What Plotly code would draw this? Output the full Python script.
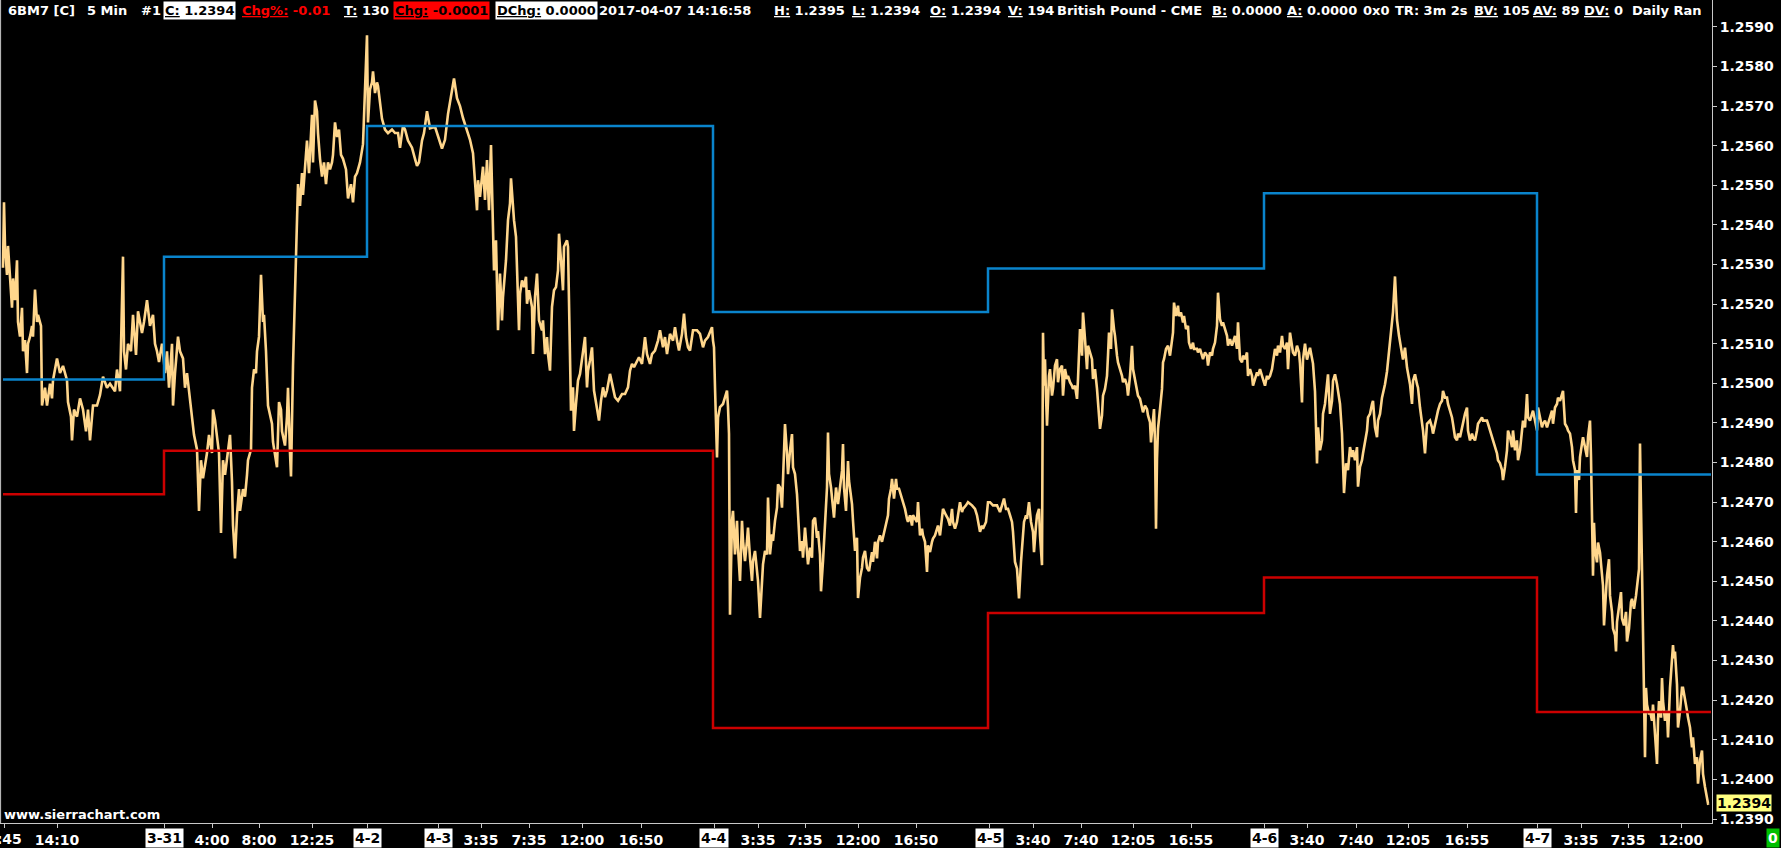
import plotly.graph_objects as go

# ---------------- data (5-min bars, x = bar index) ----------------
bar_idx = [
3,4,5,7,8,10,12,13,15,17,18,20,22,23,25,27,28,30,32,33,35,37,38,41,42,45,47,50,52,53,57,60,63,67,68,71,72,74,77,80,
83,86,88,90,93,97,100,103,107,110,115,117,120,123,124,126,128,131,133,136,138,142,144,147,150,153,155,157,159,162,
163,165,167,169,172,173,175,178,180,183,185,187,190,193,194,197,199,201,203,207,209,212,213,215,217,219,221,223,225,228,
230,232,233,235,237,239,240,243,245,247,248,251,252,254,256,257,259,261,263,264,266,268,269,272,273,275,277,279,281,282,
285,287,288,290,291,293,295,296,297,298,300,302,303,306,307,309,312,313,315,317,318,320,322,324,326,328,330,332,333,335,
337,339,341,343,346,348,351,353,355,357,360,363,364,366,367,368,370,372,373,375,377,378,380,382,385,388,392,395,398,400,
403,405,408,412,415,417,419,422,424,427,
430,435,442,445,448,451,454,457,460,463,467,470,473,475,477,478,480,483,485,487,489,491,493,494,496,498,500,502,503,506,
508,510,511,513,514,516,517,519,520,522,524,526,527,529,532,533,535,537,539,542,543,545,547,548,550,552,554,556,558,559,
561,563,564,567,568,569,571,573,574,576,578,580,582,583,585,587,588,590,592,594,597,599,601,603,605,607,610,613,615,618,
622,625,628,630,632,634,637,639,642,645,647,650,652,655,658,660,663,665,667,670,673,675,677,679,682,684,686,688,690,693,
697,700,703,705,708,712,713,714,715,716,717,718,720,723,725,727,728,729,730,732,733,735,737,738,740,742,743,745,747,748,
750,752,753,755,757,758,760,762,763,765,767,768,770,772,773,775,777,778,780,782,783,785,787,788,790,792,793,795,797,798,
800,802,803,805,807,808,810,812,813,815,817,818,820,821,823,825,827,828,829,831,833,834,836,838,840,842,843,844,846,848,
849,852,853,855,857,858,860,862,863,865,867,869,
872,873,875,877,878,880,882,884,886,888,889,891,892,894,896,897,899,902,903,905,907,908,910,912,913,915,917,918,920,922,
923,925,927,928,930,932,933,935,937,938,940,942,943,946,948,950,952,953,955,957,958,960,962,963,966,968,972,975,977,978,
980,982,983,986,988,990,993,997,1000,1002,1004,1006,1008,1010,1012,1013,1015,1017,1018,1019,1021,1022,1024,1026,1027,1029,
1031,1033,1034,1036,1037,1039,1040,1042,1043,1044,1045,1046,1047,1049,1050,1052,1053,1055,1057,1058,1060,1062,1063,1065,
1067,1068,1070,1072,1073,1075,1077,1078,1080,1082,1083,1085,1087,1088,1090,1092,1093,1095,1097,1098,1100,1102,1103,1105,
1107,1108,1109,1111,1112,1114,1115,1117,1118,1120,1122,1123,1125,1127,1128,1130,1132,1133,1135,1137,1138,1140,1142,1143,
1145,1147,1148,1150,1151,1153,1154,1155,1156,1157,1158,1160,1162,1163,1164,1166,1168,1170,1172,1173,1174,1176,1178,1179,
1181,1183,1184,1186,1188,1189,1191,1193,1194,1197,1198,1200,1203,1205,1207,1208,1210,1212,1213,1215,1217,1218,1220,1222,
1223,1225,1227,1228,1230,1232,1233,1235,1237,1238,1240,1242,1243,1245,1247,1248,1250,1252,1253,1255,1257,1258,1260,1262,
1263,1265,1267,1268,1270,1272,1273,1275,1277,1278,1280,1282,1283,1285,1287,1288,1290,1292,1293,1295,1297,1299,
1300,1302,1303,1305,1307,1310,1313,1315,1316,1317,1318,1320,1322,1323,1325,1327,1328,1330,1332,1333,1335,1337,1338,1340,
1342,1343,1344,1346,1348,1350,1352,1353,1355,1357,1358,1360,1362,1363,1365,1367,1368,1370,1372,1373,1375,1377,1378,1380,
1382,1383,1385,1387,1389,1391,1393,1395,1397,1399,1401,1403,1405,1407,1410,1412,1413,1415,1417,1418,1420,1422,1423,1425,
1426,1427,1430,1432,1433,1435,1437,1438,1440,1442,1443,1445,1447,1448,1450,1452,1453,1455,1457,1458,1460,1462,1463,1465,
1467,1468,1470,1472,1473,1475,1477,1478,1480,1482,1483,1487,1488,1490,1492,1493,1495,1497,1498,1500,1502,1503,1505,1507,
1508,1510,1512,1513,1515,1517,1518,1520,1522,1523,1525,1527,1528,1530,1532,1533,1535,1537,1538,1540,1542,1543,1545,1547,
1548,1550,1552,1553,1555,1557,1558,1560,1562,1563,1564,1565,1567,1568,1570,1572,1573,1575,1576,1577,1579,1580,1582,1583,
1585,1587,1588,1590,1591,1592,1593,1594,1595,1597,1598,1600,1602,1603,1604,1606,1607,1609,1610,1612,1613,1615,1616,1617,
1619,1621,1622,1624,1626,1627,1629,1631,1632,1634,1636,1637,1639,1640,1641,1642,1643,1644,1645,1646,1647,1649,1650,1652,
1653,1655,1657,1658,1659,1661,1662,1663,1665,1667,1668,1670,1672,1673,1674,1675,1677,1678,1680,1682,1683,1685,1687,1688,
1690,1692,1693,1695,1697,1698,1700,1702,1703,1705,1707,1708,1709,
]

price = [
1.25292,1.25457,1.25347,1.25274,1.25347,1.25265,1.25191,1.25265,1.25210,1.25311,1.25155,1.25118,1.25191,1.25081,1.25109,1.25026,1.25100,1.25118,1.25145,1.25118,
1.25237,1.25155,1.25173,1.25145,1.24944,1.24989,1.24944,1.24999,1.24962,1.25008,1.25063,1.25026,1.25044,1.25008,1.24953,1.24916,1.24856,1.24934,1.24916,1.24962,
1.24934,1.24879,1.24934,1.24856,1.24944,1.24944,1.24971,1.25017,1.24989,1.24999,1.24980,1.25035,1.24980,1.25320,1.25081,1.25035,1.25100,1.25081,1.25173,1.25072,
1.25182,1.25127,1.25155,1.25210,1.25145,1.25173,1.25100,1.25081,1.25054,1.25100,1.25081,1.25026,1.25081,1.24989,1.25100,1.24944,1.25026,1.25118,1.25081,1.25063,
1.24989,1.25026,1.24953,1.24889,1.24870,1.24833,1.24678,1.24806,1.24760,1.24824,1.24870,1.24824,1.24934,1.24907,1.24861,1.24824,1.24622,1.24806,1.24769,1.24824,
1.24870,1.24751,1.24641,1.24558,1.24668,1.24733,1.24678,1.24733,1.24714,1.24769,1.24806,1.24833,1.24989,1.25035,1.25026,1.25081,1.25118,1.25274,1.25155,1.25173,
1.25081,1.24944,1.24934,1.24898,1.24852,1.24824,1.24788,1.24953,1.24934,1.24879,1.24843,1.24916,1.24989,1.24824,1.24765,1.25044,1.25237,1.25301,1.25430,1.25503,
1.25448,1.25531,1.25476,1.25577,1.25613,1.25531,1.25678,1.25558,1.25714,1.25687,1.25632,1.25567,1.25522,1.25558,1.25503,1.25558,1.25540,1.25558,1.25577,1.25659,
1.25622,1.25641,1.25577,1.25567,1.25540,1.25467,1.25503,1.25457,1.25522,1.25531,1.25558,1.25604,1.25678,1.25797,1.25879,1.25659,1.25742,1.25760,1.25788,1.25733,
1.25760,1.25751,1.25714,1.25668,1.25641,1.25632,1.25641,1.25632,1.25632,1.25595,1.25650,1.25641,1.25613,1.25595,1.25567,1.25549,1.25558,1.25613,1.25632,1.25687,
1.25644,1.25648,1.25593,1.25615,1.25680,1.25720,1.25770,1.25720,1.25700,1.25670,1.25640,1.25615,1.25581,1.25505,1.25437,1.25513,1.25471,1.25547,1.25463,1.25564,
1.25437,1.25602,1.25387,1.25285,1.25361,1.25134,1.25277,1.25159,1.25218,1.25311,1.25412,1.25454,1.25518,1.25446,1.25412,1.25370,1.25277,1.25134,1.25226,1.25260,
1.25243,1.25269,1.25201,1.25235,1.25193,1.25074,1.25218,1.25277,1.25159,1.25134,1.25159,1.25074,1.25117,1.25074,1.25032,1.25193,1.25235,1.25243,1.25285,1.25378,
1.25311,1.25235,1.25345,1.25361,1.25345,1.25193,1.24931,1.24990,1.24880,1.24948,1.25007,1.25024,1.25058,1.25074,1.25117,1.24990,1.25032,1.25058,1.25091,1.24982,
1.24939,1.24906,1.24956,1.24990,1.24965,1.24982,1.25024,1.24990,1.24965,1.24956,1.24973,1.24973,1.24990,1.25032,1.25049,1.25041,1.25058,1.25066,1.25049,1.25117,
1.25074,1.25049,1.25074,1.25083,1.25108,1.25134,1.25091,1.25117,1.25074,1.25125,1.25108,1.25142,1.25108,1.25083,1.25125,1.25176,1.25117,1.25091,1.25083,1.25134,
1.25134,1.25125,1.25091,1.25108,1.25117,1.25142,1.25108,1.25091,1.24990,1.24906,1.24813,1.24914,1.24940,1.24948,1.24965,1.24982,1.24940,1.24872,1.24416,1.24653,
1.24678,1.24568,1.24653,1.24585,1.24501,1.24653,1.24602,1.24551,1.24602,1.24636,1.24560,1.24501,1.24551,1.24577,1.24526,1.24501,1.24408,1.24501,1.24543,1.24577,
1.24568,1.24712,1.24568,1.24619,1.24602,1.24653,1.24686,1.24745,1.24737,1.24686,1.24779,1.24897,1.24821,1.24771,1.24830,1.24872,1.24788,1.24771,1.24720,1.24661,
1.24577,1.24602,1.24560,1.24636,1.24577,1.24543,1.24585,1.24560,1.24653,1.24661,1.24610,1.24627,1.24568,1.24475,1.24551,1.24661,1.24737,1.24876,1.24771,1.24737,
1.24686,1.24661,1.24737,1.24695,1.24737,1.24779,1.24847,1.24737,1.24678,1.24804,1.24754,1.24695,1.24653,1.24577,1.24610,1.24458,1.24509,1.24534,1.24560,1.24577,
1.24534,1.24526,
1.24574,1.24549,1.24600,1.24558,1.24600,1.24616,1.24600,1.24625,1.24641,1.24667,1.24709,1.24734,1.24759,1.24709,1.24759,1.24734,1.24734,1.24709,1.24700,1.24683,
1.24658,1.24650,1.24667,1.24641,1.24667,1.24658,1.24650,1.24700,1.24616,1.24633,1.24616,1.24600,1.24524,1.24591,1.24574,1.24600,1.24608,1.24616,1.24633,1.24641,
1.24616,1.24667,1.24683,1.24667,1.24658,1.24641,1.24683,1.24650,1.24633,1.24650,1.24667,1.24700,1.24675,1.24683,1.24692,1.24700,1.24692,1.24683,1.24667,1.24650,
1.24625,1.24641,1.24633,1.24650,1.24700,1.24700,1.24692,1.24692,1.24675,1.24692,1.24709,1.24683,1.24683,1.24667,1.24650,1.24625,1.24549,1.24532,1.24499,1.24457,
1.24549,1.24591,1.24650,1.24667,1.24658,1.24700,1.24650,1.24625,1.24574,1.24641,1.24667,1.24683,1.24616,1.24541,1.25128,1.24994,1.25061,1.24969,1.24893,1.25019,
1.25036,1.24969,1.24986,1.25045,1.25061,1.25003,1.25036,1.25045,1.24969,1.25036,1.25011,1.25019,1.25003,1.24994,1.24986,1.24994,1.24961,1.25011,1.25137,1.25070,
1.25179,1.25112,1.25036,1.25095,1.25078,1.25061,1.25011,1.25036,1.24986,1.24952,1.24885,1.24919,1.24969,1.24986,1.25019,1.25070,1.25128,1.25087,1.25187,1.25137,
1.25120,1.25070,1.25053,1.25036,1.25019,1.25003,1.25011,1.24994,1.24969,1.25019,1.25095,1.25036,1.25011,1.24986,1.24969,1.24961,1.24935,1.24927,1.24944,1.24935,
1.24919,1.24902,1.24851,1.24919,1.24935,1.24851,1.24633,1.24810,1.24885,1.24935,1.24986,1.25053,1.25061,1.25087,1.25095,1.25070,1.25103,1.25128,1.25204,1.25170,
1.25196,1.25170,1.25179,1.25154,1.25170,1.25137,1.25145,1.25103,1.25087,1.25103,1.25087,1.25087,1.25078,1.25087,1.25061,1.25078,1.25070,1.25045,1.25078,1.25070,
1.25087,1.25103,1.25145,1.25229,1.25162,1.25145,1.25154,1.25137,1.25120,1.25095,1.25112,1.25095,1.25103,1.25120,1.25087,1.25154,1.25061,1.25053,1.25070,1.25061,
1.25078,1.25019,1.25036,1.25019,1.24994,1.25011,1.25028,1.25019,1.25036,1.25019,1.25011,1.24994,1.25019,1.25011,1.25019,1.25036,1.25053,1.25087,1.25070,1.25095,
1.25078,1.25120,1.25095,1.25087,1.25103,1.25036,1.25128,1.25095,1.25078,1.25070,1.25095,1.25078,
1.25050,1.24952,1.25060,1.25100,1.25060,1.25090,1.25050,1.24980,1.24864,1.24798,1.24889,1.24831,1.24856,1.24923,1.24948,1.24989,1.25023,1.24923,1.24956,1.25006,
1.25023,1.24998,1.24981,1.24948,1.24873,1.24814,1.24723,1.24798,1.24781,1.24839,1.24814,1.24831,1.24806,1.24839,1.24739,1.24789,1.24806,1.24823,1.24856,1.24881,
1.24914,1.24923,1.24948,1.24956,1.24889,1.24864,1.24906,1.24923,1.24964,1.24973,1.24998,1.25030,1.25080,1.25120,1.25180,1.25270,1.25160,1.25120,1.25090,1.25060,
1.25090,1.25040,1.24998,1.24948,1.25006,1.25023,1.24998,1.24989,1.24939,1.24906,1.24881,1.24823,1.24873,1.24898,1.24906,1.24889,1.24873,1.24898,1.24914,1.24931,
1.24948,1.24956,1.24981,1.24964,1.24964,1.24948,1.24931,1.24914,1.24898,1.24864,1.24856,1.24873,1.24864,1.24889,1.24898,1.24923,1.24939,1.24881,1.24856,1.24873,
1.24864,1.24856,1.24881,1.24898,1.24906,1.24914,1.24906,1.24906,1.24898,1.24881,1.24864,1.24856,1.24839,1.24823,1.24806,1.24798,1.24781,1.24756,1.24789,1.24831,
1.24881,1.24864,1.24839,1.24881,1.24831,1.24856,1.24806,1.24831,1.24881,1.24906,1.24889,1.24973,1.24914,1.24906,1.24923,1.24931,1.24906,1.24881,1.24939,1.24914,
1.24889,1.24898,1.24906,1.24889,1.24898,1.24914,1.24931,1.24898,1.24939,1.24948,1.24964,1.24956,1.24973,1.24981,1.24939,1.24898,1.24889,1.24881,1.24873,1.24839,
1.24806,1.24781,1.24673,1.24781,1.24756,1.24814,1.24848,1.24864,1.24839,1.24814,1.24864,1.24906,1.24814,1.24681,1.24514,1.24648,1.24581,1.24548,1.24598,1.24573,
1.24514,1.24489,1.24389,1.24464,1.24514,1.24556,1.24464,1.24423,1.24381,1.24364,1.24323,1.24398,1.24431,1.24473,1.24406,1.24389,1.24423,1.24348,1.24381,1.24448,
1.24456,1.24431,1.24464,1.24489,1.24531,1.24848,1.24698,1.24531,1.24398,1.24256,1.24056,1.24231,1.24189,1.24164,1.24173,1.24148,1.24189,1.24114,1.24039,1.24148,
1.24198,1.24156,1.24256,1.24198,1.24148,1.24173,1.24106,1.24231,1.24298,1.24339,1.24306,1.24323,1.24239,1.24131,1.24173,1.24231,1.24231,1.24206,1.24173,1.24156,
1.24131,1.24081,1.24106,1.24039,1.24056,1.23989,1.24048,1.24073,1.24014,1.23981,1.23948,1.23939,1.23940,
]

# daily reference levels (step lines), changing at session boundaries
level_bars = [3, 164, 367, 713, 988, 1264, 1537, 1711]
upper_level = [1.2501, 1.2532, 1.2565, 1.2518, 1.2529, 1.2548, 1.2477]
lower_level = [1.2472, 1.2483, 1.2483, 1.2413, 1.2442, 1.2451, 1.2417]

# x-axis ticks
tick_bars = [4, 57, 164, 212, 259, 312, 367, 438, 481, 529, 582, 641, 714, 758, 805, 858, 916,
             989, 1033, 1081, 1133, 1191, 1264, 1307, 1356, 1408, 1467, 1537, 1581, 1628, 1681]
tick_labels = ["9:45", "14:10", "3-31", "4:00", "8:00", "12:25", "4-2", "4-3", "3:35", "7:35", "12:00",
               "16:50", "4-4", "3:35", "7:35", "12:00", "16:50", "4-5", "3:40", "7:40", "12:05", "16:55",
               "4-6", "3:40", "7:40", "12:05", "16:55", "4-7", "3:35", "7:35", "12:00"]
date_labels = {"3-31", "4-2", "4-3", "4-4", "4-5", "4-6", "4-7"}

# y-axis ticks
price_ticks = [1.2390, 1.2400, 1.2410, 1.2420, 1.2430, 1.2440, 1.2450, 1.2460, 1.2470, 1.2480, 1.2490,
               1.2500, 1.2510, 1.2520, 1.2530, 1.2540, 1.2550, 1.2560, 1.2570, 1.2580, 1.2590]
last_price = 1.2394

header_items = [
    ("6BM7 [C]", 6, "white", None),
    ("5 Min", 85, "white", None),
    ("#1", 139, "white", None),
    ("<u>C:</u> 1.2394", 163, "black", "white"),
    ("<u>Chg%:</u> -0.01", 240, "#FF0000", None),
    ("<u>T:</u> 130", 342, "white", None),
    ("<u>Chg:</u> -0.0001", 393, "black", "#FF0000"),
    ("<u>DChg:</u> 0.0000", 495, "black", "white"),
    ("2017-04-07 14:16:58", 597, "white", None),
    ("<u>H:</u> 1.2395", 772, "white", None),
    ("<u>L:</u> 1.2394", 850, "white", None),
    ("<u>O:</u> 1.2394", 928, "white", None),
    ("<u>V:</u> 194", 1006, "white", None),
    ("British Pound - CME", 1055, "white", None),
    ("<u>B:</u> 0.0000", 1210, "white", None),
    ("<u>A:</u> 0.0000", 1285, "white", None),
    ("0x0", 1361, "white", None),
    ("TR: 3m 2s", 1393, "white", None),
    ("<u>BV:</u> 105", 1472, "white", None),
    ("<u>AV:</u> 89", 1531, "white", None),
    ("<u>DV:</u> 0", 1582, "white", None),
    ("Daily Ran", 1630, "white", None),
]

# ---------------- figure ----------------
W, H = 1781, 848
PLOT_W, PLOT_H = 1712, 825
FONT = "DejaVu Sans"

fig = go.Figure()
fig.add_trace(go.Scatter(x=bar_idx, y=price, mode="lines",
                         line=dict(color="#FFD68C", width=2.6), hoverinfo="skip"))
fig.add_trace(go.Scatter(x=level_bars, y=upper_level + [upper_level[-1]], mode="lines",
                         line=dict(color="#0A84CC", width=2.5, shape="hv"), hoverinfo="skip"))
fig.add_trace(go.Scatter(x=level_bars, y=lower_level + [lower_level[-1]], mode="lines",
                         line=dict(color="#CC0000", width=2.5, shape="hv"), hoverinfo="skip"))

ytop = 1.2590 + 27 / 39700
ybot = 1.2590 - (PLOT_H - 27) / 39700

fig.update_layout(
    width=W, height=H,
    margin=dict(l=0, r=W - PLOT_W, t=0, b=H - PLOT_H),
    paper_bgcolor="black", plot_bgcolor="black",
    showlegend=False,
    font=dict(family=FONT, color="white", size=14, weight="bold"),
    xaxis=dict(range=[0, PLOT_W], tickvals=tick_bars,
               ticktext=["" if (t in date_labels or i == 0) else t
                         for i, t in enumerate(tick_labels)],
               ticks="outside", ticklen=4, tickcolor="#C8C8C8", showline=True,
               linecolor="#C8C8C8", linewidth=1, showgrid=False, zeroline=False,
               tickfont=dict(family=FONT, size=14, color="white", weight="bold")),
    yaxis=dict(range=[ybot, ytop], side="right", tickvals=price_ticks,
               ticktext=[f"{v:.4f}" for v in price_ticks],
               ticks="outside", ticklen=4, tickcolor="#C8C8C8", showline=True,
               linecolor="#C8C8C8", linewidth=1, showgrid=False, zeroline=False,
               tickfont=dict(family=FONT, size=14, color="white", weight="bold")),
)

ann = []
for text, xp, fg, bg in header_items:
    a = dict(text=text, xref="paper", yref="paper", x=xp / PLOT_W, y=1 - 10.5 / PLOT_H,
             xanchor="left", yanchor="middle", showarrow=False,
             font=dict(family=FONT, size=13, color=fg, weight="bold"))
    if bg:
        a.update(bgcolor=bg, borderpad=1)
    ann.append(a)

for i, (pos, lab) in enumerate(zip(tick_bars, tick_labels)):
    if lab in date_labels:
        ann.append(dict(text=lab, x=pos, xref="x", y=0, yref="paper", yanchor="top",
                        yshift=-5, showarrow=False, bgcolor="white", borderpad=1,
                        font=dict(family=FONT, size=14, color="black", weight="bold")))
    elif i == 0:
        # first label is partly cut by the left edge of the chart window
        ann.append(dict(text=lab, x=pos, xref="x", y=0, yref="paper", yanchor="top",
                        yshift=-6, showarrow=False,
                        font=dict(family=FONT, size=14, color="white", weight="bold")))

ann.append(dict(text="www.sierrachart.com", xref="paper", yref="paper", x=2 / PLOT_W,
                y=9 / PLOT_H, xanchor="left", yanchor="middle", showarrow=False,
                font=dict(family=FONT, size=13, color="white", weight="bold")))
ann.append(dict(text=f"{last_price:.4f}", xref="paper", x=1, xanchor="left", xshift=4,
                y=last_price, yref="y", yanchor="middle", showarrow=False,
                bgcolor="#FFFF80", borderpad=0,
                font=dict(family=FONT, size=14, color="black", weight="bold")))
ann.append(dict(text="0", xref="paper", x=(W - 1) / PLOT_W, xanchor="right",
                yref="paper", y=-15 / PLOT_H, yanchor="middle", showarrow=False,
                bgcolor="#00C000", borderpad=1,
                font=dict(family=FONT, size=14, color="white", weight="bold")))
fig.update_layout(annotations=ann)

fig.add_shape(type="line", xref="paper", yref="paper", x0=0.6 / PLOT_W, x1=0.6 / PLOT_W,
              y0=0, y1=1, line=dict(color="#C8C8C8", width=1))

fig.write_html("out.html", config={"displayModeBar": False},
               post_script="document.body.style.margin='0';document.body.style.overflow='hidden';")
